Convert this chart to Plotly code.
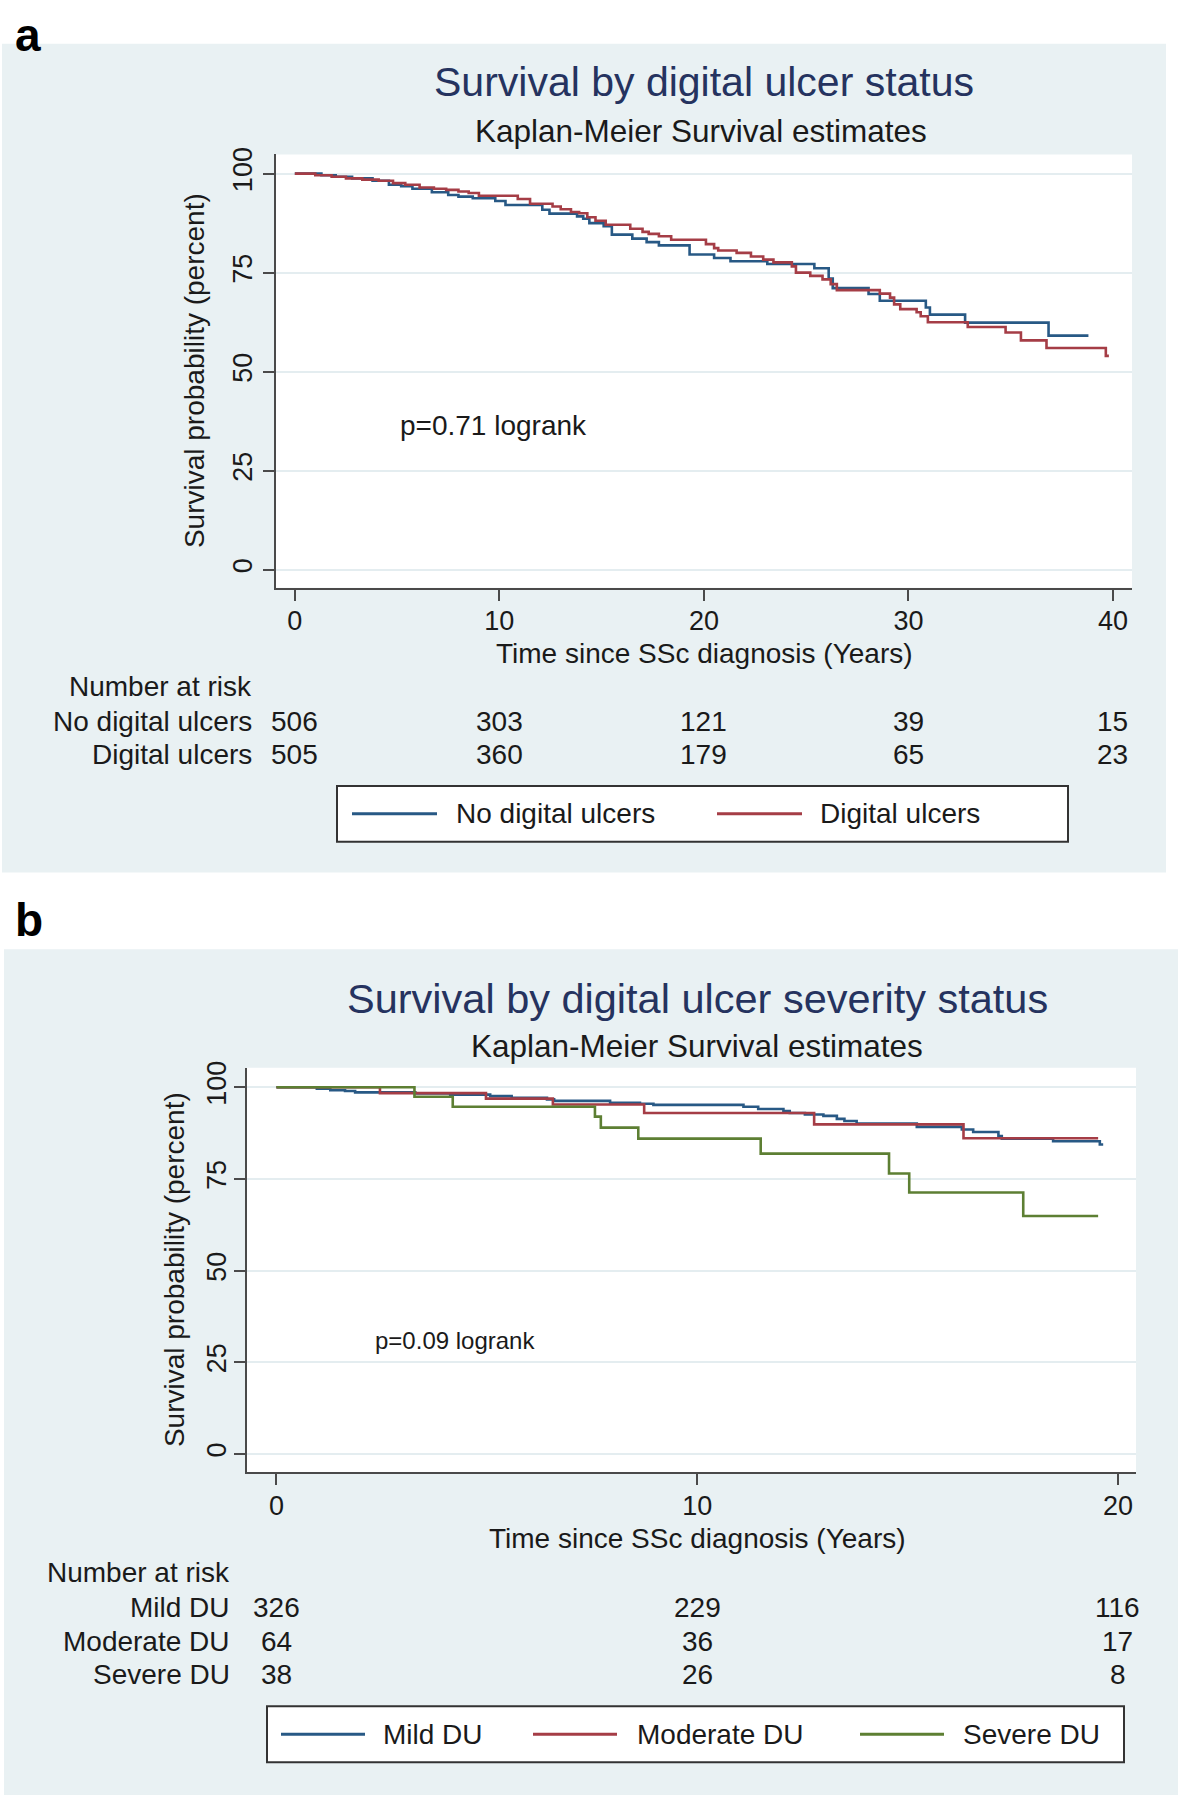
import plotly.graph_objects as go

W, H = 1181, 1798
FONT = "Liberation Sans, Arial, Helvetica, sans-serif"
TXT = "#1a1a1a"
NAVY_T = "#25335f"
BG = "#e9f1f3"
GRID = "#e4edf0"
AXC = "#4a4a4a"
C_BLUE = "#285985"
C_RED = "#a53d46"
C_GREEN = "#5d7f33"

# ---------------- Panel a data ----------------
a_no_du_t = [0, 1.3, 2.0, 2.8, 3.8, 4.6, 5.2, 5.75, 6.7, 7.5, 8.0, 8.7, 9.8, 10.3, 12.1, 12.45,
             13.8, 14.1, 14.4, 15.1, 15.5, 16.5, 17.2, 17.8, 19.3, 20.5, 21.3, 23.1, 25.4, 26.1,
             26.3, 28.05, 28.6, 30.85, 31.05, 32.77, 36.85, 38.8]
a_no_du_s = [100, 99.6, 99.2, 98.8, 98.2, 97.2, 96.8, 96.2, 95.3, 94.6, 94.2, 93.8, 93.1, 92.1, 90.9, 89.9,
             89.2, 88.6, 87.5, 86.7, 84.6, 83.6, 82.7, 81.9, 79.6, 78.7, 77.9, 77.2, 76.1, 73.5,
             71.1, 69.6, 67.9, 66.2, 64.4, 62.4, 59.1, 59.1]

a_du_t = [0, 1.0, 1.8, 2.5, 3.3, 4.1, 4.8, 5.4, 6.1, 6.8, 7.4, 8.0, 8.5, 9.0, 10.9, 11.5, 12.6, 13.0,
          13.5, 13.9, 14.3, 14.7, 15.2, 16.4, 17.0, 17.3, 17.8, 18.4, 20.1, 20.5, 20.7, 21.6, 22.3,
          22.9, 23.4, 24.3, 24.5, 25.2, 25.8, 26.2, 26.5, 28.6, 29.1, 29.3, 29.6, 30.4, 30.6, 30.95,
          32.9, 34.75, 35.5, 36.75, 39.65, 39.8]
a_du_s = [100, 99.6, 99.2, 98.8, 98.5, 98.2, 97.6, 97.2, 96.5, 96.2, 95.9, 95.5, 95.1, 94.4, 93.6, 92.4, 91.7, 91.0,
          90.3, 90.0, 89.0, 88.1, 87.1, 86.1, 85.3, 84.8, 84.2, 83.3, 82.2, 81.2, 80.6, 80.0, 79.1,
          78.3, 77.6, 76.6, 75.0, 74.2, 73.3, 72.1, 70.6, 69.7, 68.7, 67.0, 65.8, 65.0, 64.0, 62.5,
          61.3, 59.9, 57.9, 56.0, 54.0, 54.0]

a_risk_times = [0, 10, 20, 30, 40]
a_risk_no_du = [506, 303, 121, 39, 15]
a_risk_du = [505, 360, 179, 65, 23]
a_xticks = [0, 10, 20, 30, 40]
yticks = [0, 25, 50, 75, 100]

# ---------------- Panel b data ----------------
b_mild_t = [0, 0.96, 1.28, 1.63, 1.87, 3.3, 4.13, 5.08, 5.59, 6.43, 6.6, 7.93, 8.64, 8.96, 11.1, 11.45,
            12.05, 12.2, 12.56, 13.0, 13.32, 13.5, 13.79, 15.22, 16.29, 16.56, 17.16, 17.24, 18.46,
            19.57, 19.65]
b_mild_s = [100, 99.6, 99.2, 99.0, 98.6, 98.3, 98.0, 97.6, 97.1, 96.7, 96.3, 95.8, 95.5, 95.2, 94.7, 94.1,
            93.5, 93.0, 92.6, 92.2, 91.4, 90.8, 90.1, 89.2, 88.5, 87.8, 86.7, 86.0, 85.3,
            84.4, 84.4]
b_mod_t = [0, 2.46, 4.98, 6.57, 8.74, 12.78, 16.33, 19.53]
b_mod_s = [100, 98.4, 96.9, 95.3, 93.0, 89.9, 86.1, 86.1]
b_sev_t = [0, 3.28, 4.19, 7.57, 7.71, 8.6, 11.51, 14.56, 15.04, 17.75, 19.53]
b_sev_s = [100, 97.4, 94.7, 92.0, 89.0, 86.0, 81.9, 76.5, 71.3, 64.9, 64.9]

b_risk_times = [0, 10, 20]
b_risk_mild = [326, 229, 116]
b_risk_mod = [64, 36, 17]
b_risk_sev = [38, 26, 8]
b_xticks = [0, 10, 20]


def px(x):
    return x / W


def py(y):
    return 1 - y / H


fig = go.Figure()

line_w = 2.6
fig.add_trace(go.Scatter(x=a_no_du_t, y=a_no_du_s, mode="lines", line=dict(color=C_BLUE, width=line_w, shape="hv"),
                         name="No digital ulcers", xaxis="x", yaxis="y", showlegend=False))
fig.add_trace(go.Scatter(x=a_du_t, y=a_du_s, mode="lines", line=dict(color=C_RED, width=line_w, shape="hv"),
                         name="Digital ulcers", xaxis="x", yaxis="y", showlegend=False))
fig.add_trace(go.Scatter(x=b_mild_t, y=b_mild_s, mode="lines", line=dict(color=C_BLUE, width=line_w, shape="hv"),
                         name="Mild DU", xaxis="x2", yaxis="y2", showlegend=False))
fig.add_trace(go.Scatter(x=b_mod_t, y=b_mod_s, mode="lines", line=dict(color=C_RED, width=line_w, shape="hv"),
                         name="Moderate DU", xaxis="x2", yaxis="y2", showlegend=False))
fig.add_trace(go.Scatter(x=b_sev_t, y=b_sev_s, mode="lines", line=dict(color=C_GREEN, width=line_w, shape="hv"),
                         name="Severe DU", xaxis="x2", yaxis="y2", showlegend=False))

# plot-area geometry (pixels)
A_L, A_R, A_T, A_B = 276, 1132, 148, 583
B_L, B_R, B_T, B_B = 247, 1136, 1065, 1471

tickfont = dict(family=FONT, size=27, color=TXT)
common_x = dict(showline=True, linecolor=AXC, linewidth=2, ticks="outside", ticklen=11, tickwidth=2,
                tickcolor=AXC, showgrid=False, zeroline=False, tickfont=tickfont, ticklabelstandoff=-3)
common_y = dict(showline=True, linecolor=AXC, linewidth=2, ticks="outside", ticklen=11, tickwidth=2,
                tickcolor=AXC, showgrid=True, gridcolor=GRID, gridwidth=2, zeroline=False,
                tickfont=tickfont, tickangle=-90, tickvals=yticks, ticktext=[str(v) for v in yticks])

fig.update_layout(
    width=W, height=H, margin=dict(l=0, r=0, t=0, b=0),
    paper_bgcolor="white", plot_bgcolor="rgba(0,0,0,0)",
    font=dict(family=FONT, color=TXT),
    xaxis=dict(domain=[px(A_L), px(A_R)], range=[-0.92, 40.93], anchor="y",
               tickvals=a_xticks, ticktext=[str(v) for v in a_xticks], **common_x),
    yaxis=dict(domain=[py(A_B), py(A_T)], range=[-4.53, 104.85], anchor="x", **common_y),
    xaxis2=dict(domain=[px(B_L), px(B_R)], range=[-0.70, 20.43], anchor="y2",
                tickvals=b_xticks, ticktext=[str(v) for v in b_xticks], **common_x),
    yaxis2=dict(domain=[py(B_B), py(B_T)], range=[-4.97, 105.3], anchor="x2", ticklabelstandoff=-3,
                **common_y),
)

shapes = []
# panel backgrounds
shapes.append(dict(type="rect", xref="paper", yref="paper", x0=px(2), x1=px(1166), y0=py(869), y1=py(37),
                   fillcolor=BG, line=dict(width=0), layer="below"))
shapes.append(dict(type="rect", xref="paper", yref="paper", x0=px(4), x1=px(1178), y0=py(1795), y1=py(946),
                   fillcolor=BG, line=dict(width=0), layer="below"))
# white plot regions
shapes.append(dict(type="rect", xref="paper", yref="paper", x0=px(A_L), x1=px(A_R), y0=py(A_B), y1=py(A_T),
                   fillcolor="white", line=dict(width=0), layer="below"))
shapes.append(dict(type="rect", xref="paper", yref="paper", x0=px(B_L), x1=px(B_R), y0=py(B_B), y1=py(B_T),
                   fillcolor="white", line=dict(width=0), layer="below"))
# legend boxes
shapes.append(dict(type="rect", xref="paper", yref="paper", x0=px(337), x1=px(1068), y0=py(838), y1=py(782),
                   fillcolor="white", line=dict(width=2, color="#333333")))
shapes.append(dict(type="rect", xref="paper", yref="paper", x0=px(267), x1=px(1124), y0=py(1762), y1=py(1706),
                   fillcolor="white", line=dict(width=2, color="#333333")))

annotations = []


def ann(text, x, y, size, color=TXT, xanchor="center", yanchor="middle", xref="paper", yref="paper",
        textangle=0, bold=False):
    if bold:
        text = "<b>" + text + "</b>"
    annotations.append(dict(text=text, x=x, y=y, xref=xref, yref=yref, xanchor=xanchor, yanchor=yanchor,
                            showarrow=False, textangle=textangle,
                            font=dict(family=FONT, size=size, color=color)))


# legend entries (custom swatches)
def legend_item(x0, x1, ycen, color, label, tx):
    shapes.append(dict(type="line", xref="paper", yref="paper", x0=px(x0), x1=px(x1), y0=py(ycen), y1=py(ycen),
                       line=dict(color=color, width=3)))
    ann(label, px(tx), py(ycen), 28, xanchor="left")


legend_item(352, 437, 810, C_BLUE, "No digital ulcers", 454)
legend_item(717, 802, 810, C_RED, "Digital ulcers", 818)
legend_item(281, 365, 1734, C_BLUE, "Mild DU", 381)
legend_item(533, 617, 1734, C_RED, "Moderate DU", 635)
legend_item(860, 944, 1734, C_GREEN, "Severe DU", 961)

# panel letters
ann("a", px(28), py(0), 46, color="#000000", bold=True, yanchor="top")
ann("b", px(29), py(917), 46, color="#000000", bold=True)

# titles
ann("Survival by digital ulcer status", px(704), py(75.5), 41, color=NAVY_T)
ann("Kaplan-Meier Survival estimates", px(701), py(124), 31.5, color=TXT)
ann("Survival by digital ulcer severity status", px(697), py(995), 41.5, color=NAVY_T)
ann("Kaplan-Meier Survival estimates", px(697), py(1043), 31.5, color=TXT)

# axis titles
ann("Time since SSc diagnosis (Years)", px(704), py(649), 28)
ann("Survival probability (percent)", px(194), py(365.5), 28, textangle=-90)
ann("Time since SSc diagnosis (Years)", px(697), py(1537), 28)
ann("Survival probability (percent)", px(174), py(1268), 28, textangle=-90)

# p-values
ann("p=0.71 logrank", 5.05, 36.5, 28, xanchor="left", xref="x", yref="y")
ann("p=0.09 logrank", 2.3, 31.0, 24, xanchor="left", xref="x2", yref="y2")

# risk tables
ann("Number at risk", px(254), py(682), 28, xanchor="right")
ann("No digital ulcers", px(254), py(717), 28, xanchor="right")
ann("Digital ulcers", px(254), py(750), 28, xanchor="right")
for t, n1, n2 in zip(a_risk_times, a_risk_no_du, a_risk_du):
    ann(str(n1), t, py(717), 28, xref="x")
    ann(str(n2), t, py(750), 28, xref="x")

ann("Number at risk", px(232), py(1572), 28, xanchor="right")
ann("Mild DU", px(232), py(1607), 28, xanchor="right")
ann("Moderate DU", px(232), py(1641), 28, xanchor="right")
ann("Severe DU", px(232), py(1674), 28, xanchor="right")
for t, n1, n2, n3 in zip(b_risk_times, b_risk_mild, b_risk_mod, b_risk_sev):
    ann(str(n1), t, py(1607), 28, xref="x2")
    ann(str(n2), t, py(1641), 28, xref="x2")
    ann(str(n3), t, py(1674), 28, xref="x2")

fig.update_layout(shapes=shapes, annotations=annotations)

fig.write_html("out.html", config={"displayModeBar": False},
               post_script="document.body.style.margin='0';document.body.style.overflow='hidden';")
